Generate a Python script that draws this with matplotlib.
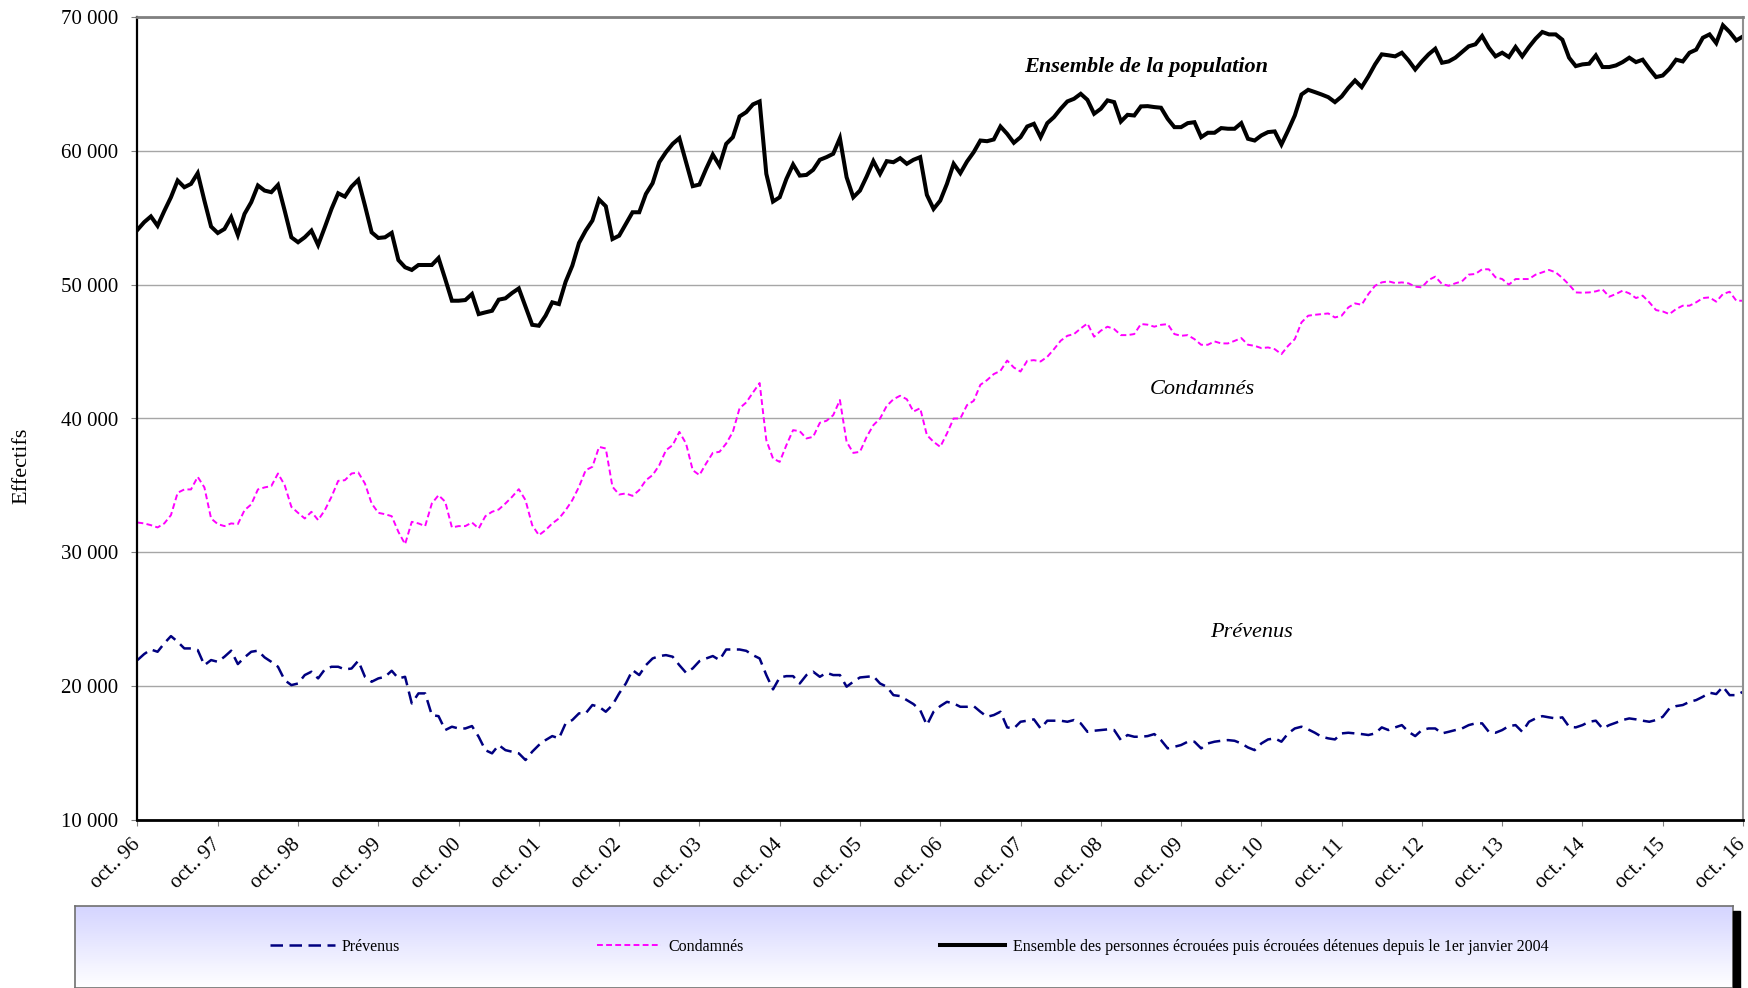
import numpy as np
import matplotlib
matplotlib.use("Agg")
import matplotlib.pyplot as plt
from matplotlib.ticker import FuncFormatter
from matplotlib.colors import LinearSegmentedColormap
from matplotlib.patches import Rectangle

plt.rcParams['font.family'] = ['Liberation Serif', 'DejaVu Serif']

# monthly values, oct. 96 -> oct. 16 (one row = oct..sep)
ensemble = [
    54100, 54670, 55100, 54400, 55500, 56530, 57780, 57280, 57530, 58330, 56280, 54340,
    53860, 54160, 55040, 53710, 55290, 56160, 57410, 57030, 56910, 57450, 55530, 53540,
    53170, 53540, 54040, 52960, 54290, 55660, 56830, 56580, 57330, 57830, 55910, 53910,
    53490, 53540, 53870, 51840, 51300, 51100, 51470, 51470, 51470, 51990, 50420, 48800,
    48800, 48850, 49300, 47800, 47930, 48050, 48880, 48980, 49380, 49720, 48350, 47000,
    46930, 47680, 48680, 48550, 50220, 51420, 53120, 54040, 54790, 56360, 55860, 53410,
    53660, 54540, 55410, 55410, 56780, 57580, 59150, 59900, 60520, 60950, 59150, 57360,
    57480, 58650, 59720, 58900, 60520, 61020, 62570, 62890, 63470, 63690, 58280, 56210,
    56530, 57900, 58980, 58150, 58200, 58580, 59330, 59530, 59780, 60950, 58030, 56530,
    57030, 58080, 59230, 58280, 59230, 59150, 59450, 59030, 59330, 59530, 56710, 55660,
    56280, 57530, 59030, 58330, 59200, 59900, 60770, 60720, 60850, 61820, 61270, 60600,
    61020, 61820, 62020, 61020, 62070, 62520, 63140, 63690, 63890, 64260, 63810, 62770,
    63140, 63770, 63640, 62190, 62690, 62640, 63320, 63340, 63270, 63220, 62390, 61770,
    61770, 62070, 62140, 61020, 61350, 61350, 61700, 61650, 61650, 62070, 60900, 60770,
    61150, 61400, 61450, 60470, 61520, 62640, 64210, 64560, 64390, 64210, 64010, 63640,
    64060, 64710, 65260, 64760, 65560, 66460, 67210, 67140, 67060, 67330, 66760, 66080,
    66680, 67210, 67630, 66580, 66680, 66960, 67380, 67810, 67960, 68580, 67710, 67060,
    67330, 67010, 67760, 67060, 67760, 68380, 68880, 68700, 68700, 68300, 66960, 66330,
    66460, 66510, 67130, 66260, 66260, 66380, 66630, 66960, 66630, 66810, 66130, 65510,
    65630, 66130, 66810, 66680, 67330, 67560, 68450, 68700, 68050, 69380, 68880, 68250,
    68550,
]

condamnes = [
    32230, 32160, 32030, 31860, 32160, 32780, 34450, 34700, 34700, 35640, 34850, 32530,
    32110, 31960, 32160, 32110, 33150, 33580, 34700, 34850, 34950, 35890, 35020, 33400,
    32950, 32530, 33030, 32410, 33150, 34150, 35340, 35390, 35890, 35970, 35140, 33650,
    32950, 32850, 32700, 31530, 30610, 32280, 32160, 31960, 33650, 34270, 33780, 31860,
    31960, 31960, 32230, 31780, 32700, 33030, 33200, 33650, 34150, 34720, 33900, 32030,
    31280, 31660, 32160, 32530, 33150, 33900, 34900, 36140, 36390, 37880, 37760, 34900,
    34320, 34400, 34220, 34650, 35390, 35770, 36510, 37630, 38010, 39000, 38130, 36140,
    35770, 36640, 37430, 37510, 38130, 39000, 40770, 41200, 41940, 42650, 38380, 37010,
    36760, 38010, 39130, 39050, 38510, 38630, 39680, 39830, 40250, 41380, 38260, 37430,
    37510, 38630, 39500, 40000, 40940, 41440, 41700, 41440, 40520, 40770, 38760, 38260,
    37880, 38880, 40000, 40000, 41000, 41320, 42520, 42870, 43320, 43560, 44330, 43810,
    43510, 44310, 44360, 44260, 44610, 45180, 45810, 46180, 46310, 46730, 47100, 46110,
    46560, 46860, 46680, 46230, 46230, 46310, 47060, 47010, 46860, 47000, 47050, 46310,
    46180, 46230, 45930, 45510, 45510, 45760, 45610, 45610, 45800, 46010, 45510, 45430,
    45260, 45310, 45180, 44810, 45430, 45930, 47180, 47680, 47750, 47800, 47850, 47550,
    47680, 48300, 48600, 48500, 49300, 49920, 50170, 50250, 50120, 50170, 50100, 49850,
    49800, 50350, 50600, 50050, 49920, 50100, 50250, 50750, 50800, 51150, 51150, 50550,
    50420, 50000, 50420, 50420, 50420, 50750, 50920, 51100, 50920, 50500, 50000, 49420,
    49400, 49420, 49500, 49650, 49100, 49300, 49550, 49350, 49000, 49180, 48680, 48100,
    48000, 47800, 48180, 48430, 48430, 48680, 49000, 49050, 48730, 49300, 49470, 48800,
    48800,
]

prevenus = [
    21950, 22400, 22740, 22570, 23200, 23740, 23320, 22820, 22820, 22700, 21570, 21950,
    21820, 22200, 22650, 21650, 22150, 22570, 22650, 22150, 21820, 21450, 20450, 20080,
    20200, 20830, 21080, 20580, 21250, 21450, 21450, 21250, 21320, 21900, 20700, 20330,
    20580, 20700, 21150, 20580, 20700, 18710, 19460, 19460, 17840, 17760, 16720, 16970,
    16840, 16840, 17020, 16220, 15220, 14980, 15600, 15220, 15100, 14980, 14480, 15100,
    15600, 15970, 16270, 16100, 17220, 17470, 17970, 17970, 18590, 18460, 18090, 18590,
    19460, 20200, 21200, 20830, 21570, 22070, 22250, 22320, 22200, 21570, 21000, 21330,
    21870, 22070, 22250, 21950, 22740, 22740, 22740, 22640, 22320, 22070, 20830, 19760,
    20650, 20750, 20750, 20200, 20830, 21080, 20700, 21000, 20830, 20830, 19960, 20330,
    20650, 20700, 20750, 20200, 19960, 19330, 19260, 18960, 18660, 18210, 17090, 18090,
    18510, 18830, 18710, 18460, 18460, 18510, 18090, 17710, 17840, 18090, 16920, 16840,
    17340, 17420, 17520, 16840, 17420, 17420, 17420, 17340, 17470, 17220, 16590, 16670,
    16720, 16770, 16720, 15970, 16350, 16220, 16220, 16270, 16420, 15970, 15350, 15470,
    15600, 15850, 15850, 15350, 15720, 15850, 15920, 15970, 15920, 15720, 15420, 15220,
    15720, 16020, 16100, 15850, 16470, 16840, 16970, 16770, 16520, 16220, 16100, 16020,
    16470, 16520, 16470, 16420, 16350, 16470, 16920, 16720, 16920, 17090, 16590, 16270,
    16720, 16840, 16840, 16470, 16590, 16720, 16840, 17090, 17220, 17220, 16590, 16520,
    16720, 17020, 17090, 16590, 17340, 17590, 17760, 17670, 17590, 17670, 16970, 16920,
    17090, 17340, 17420, 16840, 17090, 17270, 17470, 17590, 17520, 17420, 17340, 17470,
    17710, 18340, 18510, 18590, 18830, 18960, 19210, 19510, 19410, 19960, 19330, 19330,
    19580,
]

years = ["96", "97", "98", "99", "00", "01", "02", "03", "04", "05", "06",
         "07", "08", "09", "10", "11", "12", "13", "14", "15", "16"]
tick_labels = ["oct.. " + y for y in years]

legend_labels = ["Prévenus", "Condamnés",
                 "Ensemble des personnes écrouées puis écrouées détenues depuis le 1er janvier 2004"]

months = np.arange(len(ensemble))

fig = plt.figure(figsize=(17.49, 9.88), dpi=100)
fig.patch.set_facecolor("white")

# legend box with lavender gradient + black shadow
lax = fig.add_axes([75 / 1749, 0, (1733 - 75) / 1749, (988 - 906) / 988])
grad = np.linspace(0, 1, 100).reshape(-1, 1)
cmap = LinearSegmentedColormap.from_list("lav", ["#c9c9ff", "#ffffff"])
lax.imshow(grad, aspect="auto", cmap=cmap, extent=[0, 1, 0, 1.25], origin="upper")
lax.set_xlim(0, 1)
lax.set_ylim(0, 1)
lax.set_xticks([])
lax.set_yticks([])
for s in lax.spines.values():
    s.set_color("#707070")
    s.set_linewidth(1.2)
fig.patches.append(Rectangle((1733 / 1749, 0), 7 / 1749, 1 - 911 / 988,
                             transform=fig.transFigure, color="black", zorder=3))

ax = fig.add_axes([137.5 / 1749, 1 - 820 / 988, (1743 - 137.5) / 1749, (820 - 17) / 988])

l_prev, = ax.plot(months, prevenus, color="#000080", lw=1.8, dashes=(5, 2.6))
l_cond, = ax.plot(months, condamnes, color="#ff00ff", lw=1.4, dashes=(3, 1.7))
l_ens, = ax.plot(months, ensemble, color="black", lw=2.9, solid_joinstyle="miter")

ax.set_xlim(0, len(ensemble) - 1)
ax.set_ylim(10000, 70000)
ax.set_yticks(range(10000, 70001, 10000))
ax.yaxis.set_major_formatter(FuncFormatter(lambda v, p: f"{int(v):,}".replace(",", " ")))
ax.set_xticks(range(0, len(ensemble), 12))
ax.set_xticklabels(tick_labels, rotation=45, ha="right", va="center", rotation_mode="anchor")

ax.grid(axis="y", color="#a6a6a6", lw=1)
ax.set_axisbelow(True)
ax.tick_params(axis="both", direction="out", length=4, color="#808080", labelsize=15)
ax.tick_params(axis="x", pad=12)
ax.tick_params(axis="y", pad=10)

ax.spines["left"].set_color("black")
ax.spines["left"].set_linewidth(1.6)
ax.spines["bottom"].set_color("black")
ax.spines["bottom"].set_linewidth(2)
ax.spines["top"].set_color("#808080")
ax.spines["top"].set_linewidth(2)
ax.spines["right"].set_color("#909090")
ax.spines["right"].set_linewidth(1.5)

fig.text(22 / 1749, 1 - 466 / 988, "Effectifs", rotation=90, ha="center", va="center", fontsize=16)

ax.text(0.628, 0.938, "Ensemble de la population", transform=ax.transAxes,
        ha="center", va="center", fontsize=16, fontweight="bold", style="italic")
ax.text(0.663, 0.5355, "Condamnés", transform=ax.transAxes,
        ha="center", va="center", fontsize=16, style="italic")
ax.text(0.694, 0.234, "Prévenus", transform=ax.transAxes,
        ha="center", va="center", fontsize=16, style="italic")

fig.legend([l_prev, l_cond, l_ens], legend_labels, ncol=3, frameon=False,
           loc="center", bbox_to_anchor=(0.5197, 1 - 947 / 988), fontsize=11.5,
           handlelength=4.06, handletextpad=0.45, columnspacing=12.3)

fig.savefig("out.png", dpi=100, facecolor="white")
